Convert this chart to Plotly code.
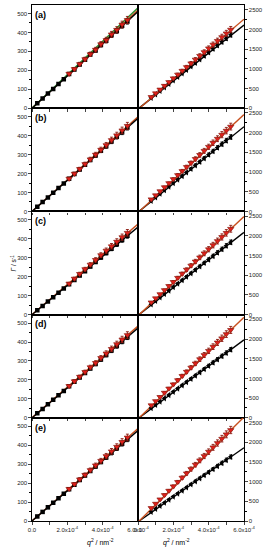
import plotly.graph_objects as go
from plotly.subplots import make_subplots

# ---------------- data (q^2 in units of 1e-4 nm^-2, Gamma in s^-1) ----------------
panel_labels = ["(a)", "(b)", "(c)", "(d)", "(e)"]

q2_left_black = [0.3, 0.6, 0.9, 1.2, 1.5, 1.8, 2.1, 2.4, 2.7, 3.0, 3.3, 3.6, 3.9, 4.2, 4.5, 4.8, 5.1, 5.4]
q2_left_red = [2.1, 2.4, 2.7, 3.0, 3.3, 3.6, 3.9, 4.2, 4.5, 4.8, 5.1, 5.4]
q2_right = [0.75, 1.0, 1.25, 1.5, 1.75, 2.0, 2.25, 2.5, 2.75, 3.0, 3.25, 3.5, 3.75, 4.0, 4.25, 4.5, 4.75, 5.0, 5.25]

left_black = [
    [26, 51, 77, 102, 128, 153, 180, 204, 231, 256, 283, 305, 334, 356, 385, 408, 436, 458],
    [25, 49, 74, 98, 123, 148, 172, 197, 221, 246, 271, 295, 320, 344, 369, 394, 418, 443],
    [23, 46, 69, 92, 115, 138, 160, 183, 206, 229, 254, 278, 301, 325, 348, 371, 394, 416],
    [24, 47, 71, 95, 119, 142, 166, 190, 213, 237, 261, 284, 308, 332, 355, 379, 403, 426],
    [24, 48, 72, 96, 120, 144, 168, 192, 216, 240, 264, 288, 312, 336, 360, 384, 408, 432],
]
left_red = [
    [182, 207, 233, 259, 285, 309, 338, 360, 390, 414, 442, 466],
    [173, 199, 224, 250, 275, 300, 326, 350, 377, 402, 428, 452],
    [164, 190, 215, 240, 264, 289, 314, 338, 361, 385, 409, 432],
    [168, 193, 217, 242, 267, 290, 316, 340, 364, 389, 414, 437],
    [170, 195, 220, 244, 269, 294, 318, 343, 368, 392, 418, 441],
]
right_red = [
    [285, 380, 475, 570, 665, 760, 855, 950, 1045, 1140, 1235, 1330, 1425, 1520, 1615, 1710, 1805, 1900, 1995],
    [308, 410, 513, 615, 718, 820, 923, 1025, 1128, 1230, 1333, 1435, 1538, 1640, 1743, 1845, 1948, 2050, 2153],
    [311, 415, 519, 623, 726, 830, 934, 1038, 1141, 1245, 1349, 1453, 1556, 1660, 1764, 1868, 1971, 2075, 2179],
    [319, 425, 531, 638, 744, 850, 956, 1063, 1169, 1275, 1381, 1488, 1594, 1700, 1806, 1913, 2019, 2125, 2231],
    [330, 440, 550, 660, 770, 880, 990, 1100, 1210, 1320, 1430, 1540, 1650, 1760, 1870, 1980, 2090, 2200, 2310],
]
right_black = [
    [266, 355, 444, 533, 621, 710, 799, 888, 976, 1065, 1154, 1243, 1331, 1420, 1509, 1598, 1686, 1775, 1864],
    [270, 360, 450, 540, 630, 720, 810, 900, 990, 1080, 1170, 1260, 1350, 1440, 1530, 1620, 1710, 1800, 1890],
    [263, 350, 438, 525, 613, 700, 788, 875, 963, 1050, 1138, 1225, 1313, 1400, 1488, 1575, 1663, 1750, 1838],
    [248, 330, 413, 495, 578, 660, 743, 825, 908, 990, 1073, 1155, 1238, 1320, 1403, 1485, 1568, 1650, 1733],
    [233, 310, 388, 465, 543, 620, 698, 775, 853, 930, 1008, 1085, 1163, 1240, 1318, 1395, 1473, 1550, 1628],
]
# fitted lines: value at q2 = 0 and q2 = 6e-4
fit_x = [0.0, 6.0]
left_fit_black = [[0, 510], [0, 492], [0, 462], [0, 474], [0, 478]]
left_fit_red = [[0, 518], [0, 500], [0, 478], [0, 484], [0, 488]]
left_fit_green = [0, 530]
right_fit_red = [[-30, 2260], [-30, 2460], [-30, 2490], [-30, 2550], [-30, 2640]]
right_fit_black = [[-20, 2110], [-20, 2150], [-20, 2090], [-20, 1980], [-20, 1860]]

x_tickvals = [0, 1, 2, 3, 4, 5, 6]
x_ticktext = ["0.0", "", "2.0x10<sup>-4</sup>", "", "4.0x10<sup>-4</sup>", "", "6.0x10<sup>-4</sup>"]
left_yticks = [0, 100, 200, 300, 400, 500]
right_yticks = [0, 500, 1000, 1500, 2000, 2500]

# ---------------- figure ----------------
fig = make_subplots(rows=5, cols=2, horizontal_spacing=0, vertical_spacing=0)

RED = "#e0201b"
DARKRED = "#8b1a10"
LINE_RED = "#c8501e"
FONT = "Liberation Sans"

for i in range(5):
    r = i + 1
    # left column
    fig.add_trace(go.Scatter(x=fit_x, y=left_fit_red[i], mode="lines",
                             line=dict(color=LINE_RED, width=1.4), showlegend=False), row=r, col=1)
    if i == 0:
        fig.add_trace(go.Scatter(x=fit_x, y=left_fit_green, mode="lines",
                                 line=dict(color="#2e8b2e", width=1.4), showlegend=False), row=r, col=1)
    fig.add_trace(go.Scatter(x=fit_x, y=left_fit_black[i], mode="lines",
                             line=dict(color="black", width=1.4), showlegend=False), row=r, col=1)
    fig.add_trace(go.Scatter(x=q2_left_black, y=left_black[i], mode="markers",
                             marker=dict(symbol="square", size=4.5, color="black"),
                             error_y=dict(type="percent", value=3, color="black", thickness=0.9, width=1.5),
                             showlegend=False), row=r, col=1)
    fig.add_trace(go.Scatter(x=q2_left_red, y=left_red[i], mode="markers",
                             marker=dict(symbol="triangle-down", size=5.5, color=RED,
                                         line=dict(color=DARKRED, width=0.7)),
                             error_y=dict(type="percent", value=4, color=DARKRED, thickness=0.9, width=1.5),
                             showlegend=False), row=r, col=1)
    # right column
    fig.add_trace(go.Scatter(x=fit_x, y=right_fit_black[i], mode="lines",
                             line=dict(color="black", width=1.4), showlegend=False), row=r, col=2)
    fig.add_trace(go.Scatter(x=fit_x, y=right_fit_red[i], mode="lines",
                             line=dict(color=LINE_RED, width=1.4), showlegend=False), row=r, col=2)
    fig.add_trace(go.Scatter(x=q2_right, y=right_black[i], mode="markers",
                             marker=dict(symbol="triangle-left", size=5.5, color="black"),
                             error_y=dict(type="percent", value=3, color="black", thickness=0.9, width=1.5),
                             showlegend=False), row=r, col=2)
    fig.add_trace(go.Scatter(x=q2_right, y=right_red[i], mode="markers",
                             marker=dict(symbol="triangle-down", size=5.5, color=RED,
                                         line=dict(color=DARKRED, width=0.7)),
                             error_y=dict(type="percent", value=4, color=DARKRED, thickness=0.9, width=1.5),
                             showlegend=False), row=r, col=2)

    last = (r == 5)
    common_x = dict(range=[0, 6], tickvals=x_tickvals, ticktext=x_ticktext,
                    showticklabels=last, ticks="outside", ticklen=2.5, tickwidth=1,
                    showline=True, mirror=True, linecolor="black", linewidth=1.3,
                    showgrid=False, zeroline=False,
                    tickfont=dict(size=6, family=FONT, color="#222"))
    fig.update_xaxes(**common_x, row=r, col=1)
    fig.update_xaxes(**common_x, row=r, col=2)
    fig.update_yaxes(range=[0, 545], tickvals=left_yticks, ticks="outside", ticklen=2.5, tickwidth=1,
                     minor=dict(dtick=50, ticks="outside", ticklen=1.5, tickwidth=0.8, tickcolor="black"),
                     showline=True, mirror=True, linecolor="black", linewidth=1.3,
                     showgrid=False, zeroline=False,
                     tickfont=dict(size=6, family=FONT, color="#222"), row=r, col=1)
    fig.update_yaxes(range=[0, 2620], tickvals=right_yticks, side="right", ticks="outside", ticklen=2.5, tickwidth=1,
                     minor=dict(dtick=250, ticks="outside", ticklen=1.5, tickwidth=0.8, tickcolor="black"),
                     showline=True, mirror=True, linecolor="black", linewidth=1.3,
                     showgrid=False, zeroline=False,
                     tickfont=dict(size=6, family=FONT, color="#222"), row=r, col=2)

# panel labels
for i, lab in enumerate(panel_labels):
    xref = "x" if i == 0 else f"x{2 * i + 1}"
    yref = "y" if i == 0 else f"y{2 * i + 1}"
    fig.add_annotation(text=f"<b>{lab}</b>", x=0.05, y=530, xref=xref, yref=yref,
                       xanchor="left", yanchor="top", showarrow=False,
                       font=dict(size=9, family=FONT, color="black"))

# axis titles
fig.add_annotation(text="<i>q</i><sup>2</sup> / nm<sup>-2</sup>", x=0.25, y=-0.03, xref="paper", yref="paper",
                   showarrow=False, yanchor="top", font=dict(size=7, family=FONT, color="black"))
fig.add_annotation(text="<i>q</i><sup>2</sup> / nm<sup>-2</sup>", x=0.755, y=-0.03, xref="paper", yref="paper",
                   showarrow=False, yanchor="top", font=dict(size=7, family=FONT, color="black"))
fig.add_annotation(text="<i>Γ</i> / s<sup>-1</sup>", x=-0.115, y=0.5, xref="paper", yref="paper",
                   showarrow=False, textangle=-90, font=dict(size=6.5, family=FONT, color="black"))

fig.update_layout(width=267, height=550, margin=dict(l=32, r=23, t=5, b=29, autoexpand=False),
                  plot_bgcolor="white", paper_bgcolor="white")

fig.write_html("out.html", config={"displayModeBar": False},
               post_script="document.body.style.margin='0';document.body.style.overflow='hidden';")
